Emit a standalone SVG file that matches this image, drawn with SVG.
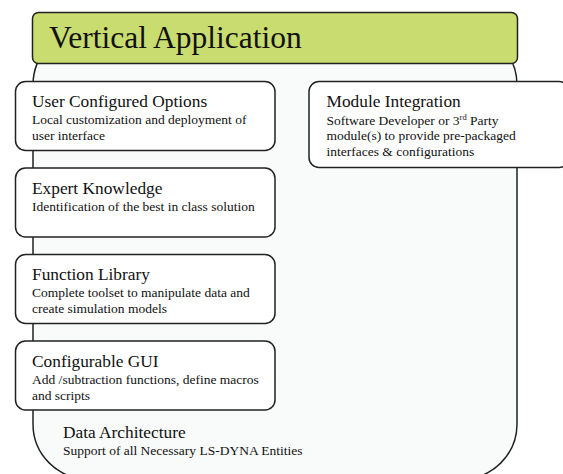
<svg xmlns="http://www.w3.org/2000/svg" width="563" height="474" viewBox="0 0 563 474">
<style>
text{font-family:"Liberation Serif","Times New Roman",serif;fill:#111}
.box{fill:#fff;stroke:#222;stroke-width:1.5}
.h{font-size:17.33px}
.s{font-size:13.5px}
.sup{font-size:8.5px}
</style>
<rect width="563" height="474" fill="#fff"/>
<g id="data-architecture">
<rect x="33" y="30" width="484" height="449" rx="55" ry="55" fill="#f9fbfb" stroke="#222" stroke-width="1.5"/>
<text class="h" x="63" y="438">Data Architecture</text>
<text class="s" x="63" y="454.500">Support of all Necessary LS-DYNA Entities</text>
</g>
<g id="vertical-application">
<rect x="32.5" y="12.5" width="485" height="51" rx="6" ry="6" fill="#c9dc6f" stroke="#222" stroke-width="1.5"/>
<text x="49" y="48" font-size="31.5">Vertical Application</text>
</g>
<g id="user-configured-options">
<rect class="box" x="15.5" y="81.5" width="259.5" height="69" rx="10"/>
<text class="h" x="32" y="107">User Configured Options</text>
<text class="s" x="32" y="123.500">Local customization and deployment of</text>
<text class="s" x="32" y="139.500">user interface</text>
</g>
<g id="expert-knowledge">
<rect class="box" x="15.5" y="168" width="259.5" height="69" rx="10"/>
<text class="h" x="32" y="194">Expert Knowledge</text>
<text class="s" x="32" y="210.500">Identification of the best in class solution</text>
</g>
<g id="function-library">
<rect class="box" x="15.5" y="254.5" width="259.5" height="69" rx="10"/>
<text class="h" x="32" y="280">Function Library</text>
<text class="s" x="32" y="296.500">Complete toolset to manipulate data and</text>
<text class="s" x="32" y="312.500">create simulation models</text>
</g>
<g id="configurable-gui">
<rect class="box" x="15.5" y="341" width="259.5" height="69" rx="10"/>
<text class="h" x="32" y="367">Configurable GUI</text>
<text class="s" x="32" y="383.500">Add /subtraction functions, define macros</text>
<text class="s" x="32" y="399.500">and scripts</text>
</g>
<g id="module-integration">
<rect class="box" x="309" y="81.5" width="260" height="86" rx="10"/>
<text class="h" x="326.500" y="107">Module Integration</text>
<text class="s" x="326.500" y="124.500">Software Developer or 3<tspan class="sup" dy="-4.500">rd</tspan><tspan dy="4.500"> Party</tspan></text>
<text class="s" x="326.500" y="140">module(s) to provide pre-packaged</text>
<text class="s" x="326.500" y="155.500">interfaces &amp; configurations</text>
</g>
<g id="connectors"></g>
</svg>
